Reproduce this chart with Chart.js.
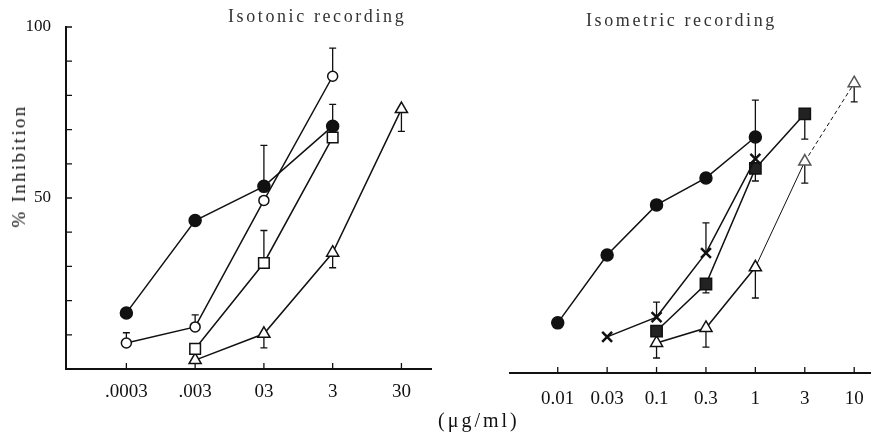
<!DOCTYPE html>
<html>
<head>
<meta charset="utf-8">
<script src="https://cdn.jsdelivr.net/npm/chart.js@4.4.1/dist/chart.umd.min.js"></script>
<style>
  body { margin: 0; background: #fff; }
  #wrap { position: relative; width: 880px; height: 432px; overflow: hidden; font-family: "Liberation Serif", "DejaVu Serif", serif; color: #111; }
  canvas { position: absolute; top: 0; }
  .txt { position: absolute; white-space: nowrap; }
</style>
</head>
<body>
<div id="wrap">
  <canvas id="leftChart" width="440" height="432" style="left:0"></canvas>
  <canvas id="rightChart" width="440" height="432" style="left:440px"></canvas>
  <div class="txt" style="left:228px; top:6px; font-size:18px; letter-spacing:2.6px; color:#333;">Isotonic recording</div>
  <div class="txt" style="left:586px; top:10px; font-size:18px; letter-spacing:2.6px; color:#333;">Isometric recording</div>
  <div class="txt" style="left:19px; top:166px; font-size:19px; letter-spacing:2.3px; transform: translate(-50%, -50%) rotate(-90deg);">% Inhibition</div>
  <div class="txt" style="left:438px; top:409px; font-size:20px; letter-spacing:3px;">(μg/ml)</div>
</div>
<script>
// Isotonic recording (left)
const leftLabels = ['.0003', '.003', '03', '3', '30'];
const leftClosedCircle = [16.4, 43.4, 53.4, 71, null];
const leftClosedCircleErr = [null, null, 65.4, 77.4, null];
const leftOpenCircle = [7.6, 12.3, 49.3, 85.6, null];
const leftOpenCircleErr = [10.6, 15.8, null, 93.8, null];
const leftOpenSquare = [null, 5.9, 31, 67.7, null];
const leftOpenSquareErr = [null, null, 40.5, null, null];
const leftTriangle = [null, 2.6, 10.3, 34, 76];
const leftTriangleErr = [null, null, 6.2, 29.6, 69.5];

// Isometric recording (right)
const rightLabels = ['0.01', '0.03', '0.1', '0.3', '1', '3', '10'];
const rightClosedCircle = [14.7, 34.6, 49.3, 57.2, 69.2, null, null];
const rightStar = [null, 10.6, 16.4, 35.2, 62.8, null, null];
const rightStarErr = [null, null, 20.8, 44, 80, null, null];
const rightClosedSquare = [null, null, 12.3, 26.1, 60, 76, null];
const rightClosedSquareErr = [null, null, null, 23.5, 56.3, 68.6, null];
const rightTriangle = [null, null, 8.8, 13.2, 31, 62, 85];
const rightTriangleErr = [null, null, 4.4, 7.6, 22, 55.7, 79.5];

const yTicks = [0, 10, 20, 30, 40, 50, 60, 70, 80, 90, 100];
const yLabelled = [50, 100];

const ink = '#111';
const serif = "'Liberation Serif', 'DejaVu Serif', serif";

function toPoints(values) {
    return values.map((v, i) => ({ x: i, y: v })).filter(p => p.y !== null);
}

function errFor(values, errs) {
    // error ends aligned to the filtered points
    return values.map((v, i) => ({ v: v, e: errs ? errs[i] : null, x: i })).filter(p => p.v !== null);
}

function series(values, errs, style) {
    return Object.assign({
        data: toPoints(values),
        errBars: errFor(values, errs),
        borderColor: ink,
        borderWidth: 1.5,
        pointBorderColor: ink,
        pointBorderWidth: 1.5,
        pointBackgroundColor: '#fff',
        pointRadius: 5,
        pointHoverRadius: 5,
        tension: 0
    }, style);
}

const errorBars = {
    id: 'errorBars',
    beforeDatasetsDraw(chart) {
        const ctx = chart.ctx;
        const xs = chart.scales.x, ys = chart.scales.y;
        ctx.save();
        ctx.strokeStyle = ink;
        ctx.lineWidth = 1.3;
        chart.data.datasets.forEach(ds => {
            ds.errBars.forEach(b => {
                if (b.e === null || b.e === undefined) return;
                const x = xs.getPixelForValue(b.x);
                const y0 = ys.getPixelForValue(b.v);
                const y1 = ys.getPixelForValue(b.e);
                ctx.beginPath();
                ctx.moveTo(x, y0);
                ctx.lineTo(x, y1);
                ctx.moveTo(x - 3.5, y1);
                ctx.lineTo(x + 3.5, y1);
                ctx.stroke();
            });
        });
        ctx.restore();
    }
};

const innerTicks = {
    id: 'innerTicks',
    afterDraw(chart) {
        const ctx = chart.ctx;
        const xs = chart.scales.x, ys = chart.scales.y;
        ctx.save();
        ctx.strokeStyle = ink;
        ctx.lineWidth = 1.3;
        ctx.beginPath();
        xs.ticks.forEach(t => {
            const x = xs.getPixelForValue(t.value);
            ctx.moveTo(x, xs.top);
            ctx.lineTo(x, xs.top - 6);
        });
        if (ys.options.display) {
            yTicks.forEach(v => {
                const y = ys.getPixelForValue(v);
                ctx.moveTo(ys.right, y);
                ctx.lineTo(ys.right + 6, y);
            });
        }
        ctx.stroke();
        ctx.restore();
    }
};

function xScale(labels, min, max, height, pad) {
    return {
        type: 'linear',
        min: min,
        max: max,
        afterBuildTicks: s => { s.ticks = labels.map((l, i) => ({ value: i })); },
        afterFit: s => { s.height = height; },
        grid: { display: false },
        border: { display: true, color: ink, width: 2 },
        ticks: {
            color: ink,
            padding: pad,
            font: { family: serif, size: 19 },
            callback: v => labels[v]
        }
    };
}

const leftChart = new Chart(document.getElementById('leftChart'), {
    type: 'line',
    data: {
        datasets: [
            series(leftClosedCircle, leftClosedCircleErr, { pointBackgroundColor: ink, pointRadius: 6 }),
            series(leftOpenCircle, leftOpenCircleErr, { pointRadius: 5 }),
            series(leftOpenSquare, leftOpenSquareErr, { pointStyle: 'rect', pointRadius: 7.5 }),
            series(leftTriangle, leftTriangleErr, { pointStyle: 'triangle', pointRadius: 7 })
        ]
    },
    options: {
        responsive: false,
        animation: false,
        layout: { padding: { top: 27, right: 5, left: 0, bottom: 0 } },
        plugins: { legend: { display: false }, tooltip: { enabled: false } },
        scales: {
            x: xScale(leftLabels, -0.878, 4.43, 63, 4),
            y: {
                min: 0,
                max: 100,
                afterBuildTicks: s => { s.ticks = yTicks.map(v => ({ value: v })); },
                afterFit: s => { s.width = 66; },
                grid: { display: false },
                border: { display: true, color: ink, width: 2 },
                ticks: {
                    color: ink,
                    padding: 7,
                    font: { family: serif, size: 17 },
                    callback: v => yLabelled.includes(v) ? String(v) : ''
                }
            }
        }
    },
    plugins: [errorBars, innerTicks]
});

const rightChart = new Chart(document.getElementById('rightChart'), {
    type: 'line',
    data: {
        datasets: [
            series(rightClosedCircle, null, { pointBackgroundColor: ink, pointRadius: 6 }),
            series(rightStar, rightStarErr, { pointStyle: 'crossRot', pointRadius: 7, pointBorderWidth: 2.5 }),
            series(rightClosedSquare, rightClosedSquareErr, { pointStyle: 'rect', pointRadius: 8, pointBackgroundColor: '#222' }),
            series(rightTriangle, rightTriangleErr, {
                pointStyle: 'triangle',
                pointRadius: 7,
                pointBorderColor: ctx => ctx.dataIndex >= 3 ? '#555' : ink,
                segment: {
                    borderWidth: ctx => ctx.p0DataIndex >= 2 ? 1 : 1.5,
                    borderDash: ctx => ctx.p0DataIndex >= 3 ? [4, 3] : undefined
                }
            })
        ]
    },
    options: {
        responsive: false,
        animation: false,
        layout: { padding: { top: 32, right: 0, left: 70, bottom: 0 } },
        plugins: { legend: { display: false }, tooltip: { enabled: false } },
        scales: {
            x: xScale(rightLabels, -0.966, 6.33, 59, 7),
            y: { display: false, min: 0, max: 100 }
        }
    },
    plugins: [errorBars, innerTicks]
});
</script>
</body>
</html>
